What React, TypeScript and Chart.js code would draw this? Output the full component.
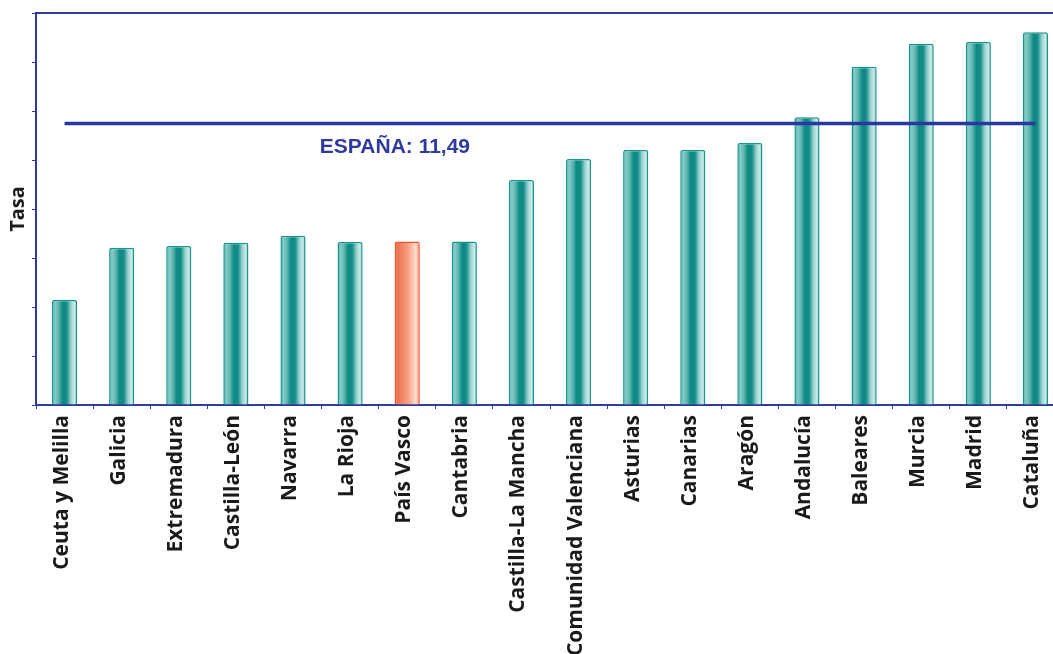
import React, { useEffect, useRef } from "react";
import { Chart, registerables } from "chart.js";

Chart.register(...registerables);

// Regions, sorted by rate
const categories = [
  "Ceuta y Melilla",
  "Galicia",
  "Extremadura",
  "Castilla-León",
  "Navarra",
  "La Rioja",
  "País Vasco",
  "Cantabria",
  "Castilla-La Mancha",
  "Comunidad Valenciana",
  "Asturias",
  "Canarias",
  "Aragón",
  "Andalucía",
  "Baleares",
  "Murcia",
  "Madrid",
  "Cataluña",
];

const rates = [
  4.29, 6.42, 6.49, 6.62, 6.91, 6.65, 6.67, 6.67, 9.18, 10.04, 10.41, 10.41,
  10.69, 11.74, 13.81, 14.75, 14.82, 15.21,
];

// National reference rate
const spainRate = 11.49;
const spainLabel = "ESPAÑA: 11,49";
const highlighted = "País Vasco";

const AXIS_BLUE = "#2d3a9e";

function tealGradient(ctx: CanvasRenderingContext2D, x0: number, x1: number) {
  const g = ctx.createLinearGradient(x0, 0, x1, 0);
  g.addColorStop(0, "#2ea39d");
  g.addColorStop(0.12, "#86cbc7");
  g.addColorStop(0.26, "#5fb6b1");
  g.addColorStop(0.42, "#0e8984");
  g.addColorStop(0.58, "#148c87");
  g.addColorStop(0.76, "#9ad4d0");
  g.addColorStop(0.9, "#cdebe8");
  g.addColorStop(1, "#45aca6");
  return g;
}

function orangeGradient(ctx: CanvasRenderingContext2D, x0: number, x1: number) {
  const g = ctx.createLinearGradient(x0, 0, x1, 0);
  g.addColorStop(0, "#f05a35");
  g.addColorStop(0.15, "#f27556");
  g.addColorStop(0.5, "#f59a7c");
  g.addColorStop(0.85, "#fde0d3");
  g.addColorStop(1, "#f6825f");
  return g;
}

// Gives each bar a horizontal cylinder shading
const cylinderShading = {
  id: "cylinderShading",
  beforeDatasetsDraw(chart: any) {
    const ctx = chart.ctx;
    const meta = chart.getDatasetMeta(0);
    meta.data.forEach((el: any, i: number) => {
      const x0 = el.x - el.width / 2;
      const x1 = el.x + el.width / 2;
      el.options.backgroundColor =
        categories[i] === highlighted
          ? orangeGradient(ctx, x0, x1)
          : tealGradient(ctx, x0, x1);
    });
  },
};

// Frame around the plot and the national-rate caption
const frameAndCaption = {
  id: "frameAndCaption",
  afterDatasetsDraw(chart: any) {
    const { ctx, chartArea, scales } = chart;
    ctx.save();
    ctx.strokeStyle = AXIS_BLUE;
    ctx.lineWidth = 2;
    ctx.beginPath();
    ctx.moveTo(chartArea.left, chartArea.top);
    ctx.lineTo(chartArea.right, chartArea.top);
    ctx.lineTo(chartArea.right, chartArea.bottom);
    ctx.stroke();

    const y = scales.y.getPixelForValue(spainRate);
    const x = scales.x.getPixelForValue(4.47);
    ctx.fillStyle = AXIS_BLUE;
    ctx.font = "bold 21px 'Liberation Sans', Arial, sans-serif";
    ctx.textAlign = "left";
    ctx.textBaseline = "alphabetic";
    ctx.fillText(spainLabel, x, y + 30);
    ctx.restore();
  },
};

export default function App() {
  const canvasRef = useRef<HTMLCanvasElement | null>(null);

  useEffect(() => {
    if (!canvasRef.current) return;
    const chart = new Chart(canvasRef.current, {
      type: "bar",
      data: {
        labels: categories,
        datasets: [
          {
            type: "bar",
            data: rates,
            backgroundColor: "#1a9893",
            borderColor: categories.map((c) =>
              c === highlighted ? "#f0552d" : "#1a9691"
            ),
            borderWidth: 1.5,
            borderRadius: 2,
            borderSkipped: "bottom",
            barPercentage: 0.44,
            categoryPercentage: 1,
            order: 2,
          },
          {
            type: "line",
            data: categories.map(() => spainRate),
            borderColor: "#2b36a0",
            borderWidth: 3.5,
            pointRadius: 0,
            fill: false,
            order: 1,
          } as any,
        ],
      },
      options: {
        responsive: false,
        animation: false,
        layout: { padding: { top: 13, right: 8, left: 0, bottom: 0 } },
        plugins: {
          legend: { display: false },
          tooltip: { enabled: false },
        },
        scales: {
          x: {
            grid: {
              display: true,
              drawOnChartArea: false,
              drawTicks: true,
              tickLength: 4,
              offset: true,
              color: AXIS_BLUE,
            },
            border: { display: true, color: AXIS_BLUE, width: 2 },
            ticks: {
              autoSkip: false,
              maxRotation: 90,
              minRotation: 90,
              padding: 6,
              labelOffset: -3,
              color: "#1a1a1a",
              font: { family: "'Open Sans', sans-serif", size: 21, weight: "bold" },
            },
            afterFit(scale: any) {
              scale.height = 654 - 405;
            },
          },
          y: {
            min: 0,
            max: 16,
            grid: {
              display: true,
              drawOnChartArea: false,
              drawTicks: true,
              tickLength: 4,
              color: AXIS_BLUE,
            },
            border: { display: true, color: AXIS_BLUE, width: 2 },
            ticks: { display: false, stepSize: 2 },
            title: {
              display: true,
              text: "Tasa",
              color: "#1a1a1a",
              padding: { top: 6, bottom: 0 },
              font: { family: "'Open Sans', sans-serif", size: 20, weight: "bold" },
            },
            afterFit(scale: any) {
              scale.width = 36;
            },
          },
        },
      },
      plugins: [cylinderShading, frameAndCaption],
    });
    return () => chart.destroy();
  }, []);

  return (
    <div
      style={{
        position: "fixed",
        left: 0,
        top: 0,
        width: 1053,
        height: 654,
        overflow: "hidden",
        background: "#ffffff",
      }}
    >
      <canvas
        ref={canvasRef}
        width={1072}
        height={654}
        style={{ display: "block", width: 1072, height: 654 }}
      />
    </div>
  );
}
